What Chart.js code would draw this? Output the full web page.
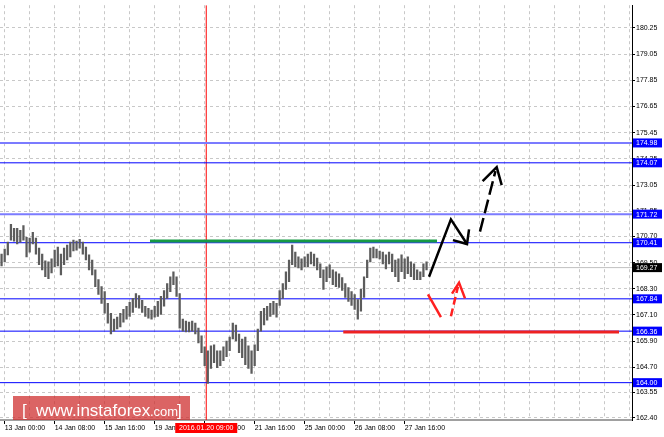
<!DOCTYPE html>
<html>
<head>
<meta charset="utf-8">
<script src="https://cdn.jsdelivr.net/npm/chart.js@4.4.1/dist/chart.umd.min.js"></script>
<style>
  html, body { margin: 0; padding: 0; background: #fff; }
</style>
</head>
<body>
<canvas id="gbpjpy" width="664" height="437"></canvas>
<script>
// H1 bars, bar 0 = 13 Jan 00:00; candles merged two bars at a time
const candleStart = -2;
const candleStep = 2;
const highs = [
  169.89, 170.12, 170.44, 171.25, 171.07, 171.07, 170.98, 171.20, 170.66, 170.62,
  170.89, 170.62, 170.16, 169.89, 169.58, 169.53, 169.67, 170.07, 170.21, 169.89,
  170.16, 170.30, 170.44, 170.53, 170.48, 170.57, 170.44, 170.21, 169.85, 169.62,
  169.17, 168.72, 168.40, 168.17, 167.63, 167.18, 166.91, 167.00, 167.18, 167.36,
  167.50, 167.68, 167.86, 168.08, 167.99, 167.77, 167.50, 167.41, 167.32, 167.50,
  167.72, 167.95, 168.22, 168.54, 168.85, 169.08, 168.85, 168.08, 166.91, 166.82,
  166.77, 166.82, 166.73, 166.50, 166.14, 165.64, 165.46, 165.69, 165.73, 165.46,
  165.46, 165.64, 165.91, 166.09, 166.73, 166.64, 166.23, 166.00, 166.09, 165.69,
  165.46, 165.73, 166.46, 167.27, 167.41, 167.50, 167.63, 167.72, 167.63, 168.22,
  168.54, 169.08, 169.62, 170.30, 169.98, 169.76, 169.67, 169.76, 169.89, 169.98,
  169.89, 169.71, 169.44, 169.17, 169.31, 169.40, 169.17, 169.08, 168.99, 168.81,
  168.54, 168.36, 168.17, 168.04, 167.81, 168.27, 168.85, 169.62, 170.16, 170.21,
  170.12, 170.03, 169.98, 169.85, 169.98, 169.89, 169.62, 169.67, 169.85, 169.67,
  169.76, 169.53, 169.44, 169.17, 169.08, 169.44, 169.53
];
const lows = [
  169.35, 169.53, 169.85, 170.53, 170.48, 170.35, 170.44, 170.53, 169.76, 169.98,
  170.35, 169.89, 169.40, 169.17, 168.85, 168.76, 169.03, 169.31, 169.35, 168.94,
  169.40, 169.62, 169.76, 170.03, 170.07, 170.16, 169.89, 169.62, 169.17, 168.94,
  168.40, 168.04, 167.63, 167.18, 166.73, 166.23, 166.36, 166.46, 166.55, 166.77,
  166.91, 167.04, 167.22, 167.45, 167.41, 167.22, 167.04, 166.95, 166.91, 167.00,
  167.04, 167.13, 167.50, 167.86, 168.17, 168.49, 167.95, 166.50, 166.36, 166.32,
  166.32, 166.36, 166.23, 165.82, 165.37, 164.78, 163.97, 164.65, 164.92, 164.69,
  164.78, 165.01, 165.19, 165.46, 166.00, 165.91, 165.37, 165.14, 164.83, 164.65,
  164.42, 164.78, 165.46, 166.36, 166.64, 166.86, 167.04, 167.13, 167.00, 167.54,
  167.86, 168.27, 168.63, 169.40, 169.31, 169.26, 169.17, 169.31, 169.31, 169.44,
  169.35, 169.17, 168.81, 168.27, 168.63, 168.81, 168.49, 168.40, 168.36, 168.22,
  167.90, 167.72, 167.54, 167.36, 166.91, 167.27, 167.90, 168.81, 169.53, 169.71,
  169.71, 169.67, 169.44, 169.21, 169.44, 169.08, 168.85, 168.63, 169.08, 168.76,
  168.99, 168.85, 168.72, 168.72, 168.72, 168.85, 169.17
];

// time axis: a label every 32 bars
const xTickLabels = ['13 Jan 00:00', '14 Jan 08:00', '15 Jan 16:00', '19 Jan 00:00', '20 Jan 08:00',
                     '21 Jan 16:00', '25 Jan 00:00', '26 Jan 08:00', '27 Jan 16:00'];
const yTickLabels = [180.25, 179.05, 177.85, 176.65, 175.45, 174.25, 173.05, 171.85,
                     170.70, 169.50, 168.30, 167.10, 165.90, 164.70, 163.55, 162.40];

// support / resistance levels and annotations (bar, price)
const levels = [174.98, 174.07, 171.72, 170.41, 167.84, 166.36, 164.00];
const lastPrice = 169.27;
const markerBar = 129;            // 2016.01.20 09:00
const markerText = '2016.01.20 09:00';
const greenLine = [[93, 170.49], [276.7, 170.49]];
const redLine = [[216.7, 166.32], [393.2, 166.32]];
const blackUp = [[271.6, 168.85], [285.6, 171.48], [295.9, 170.35]];
const blackUpHead = [[286.9, 170.53], [295.9, 170.35], [297.2, 171.02]];
const blackDash = [[304.2, 170.92], [314.1, 173.69]];
const blackDashHead = [[305.9, 173.23], [314.9, 173.87], [318.1, 173.05]];
const redDown = [[270.9, 168.04], [279.2, 167.00]];
const redDash = [[285.6, 167.04], [290.1, 168.40]];
const redDashHead = [[286.3, 168.08], [290.8, 168.58], [294.6, 167.86]];

const xMin = -3, xMax = 401.5;
const yMin = 162.29, yMax = 181.29;

const candles = highs.map((h, i) => ({ x: candleStart + i * candleStep, y: [lows[i], h] }));

function seg(points, color, width, dash, order) {
    return {
        type: 'line',
        data: points.map(p => ({ x: p[0], y: p[1] })),
        borderColor: color,
        borderWidth: width,
        borderDash: dash || [],
        pointRadius: 0,
        fill: false,
        tension: 0,
        order: order === undefined ? 0 : order
    };
}

const levelSets = levels.map(v => {
    const light = (v === 174.98 || v === 171.72);
    return seg([[xMin, v], [xMax, v]], light ? '#7b7bff' : '#0000ff', light ? 2 : 1, null, 3);
});

const overlay = {
    id: 'overlay',
    afterDraw(chart) {
        const ctx = chart.ctx;
        const ys = chart.scales.y, xs = chart.scales.x;
        ctx.save();
        ctx.font = '7px "Liberation Sans"';
        ctx.textBaseline = 'middle';
        ctx.textAlign = 'left';
        const box = (v, color) => {
            const py = ys.getPixelForValue(v);
            ctx.fillStyle = color;
            ctx.fillRect(ys.left + 1, py - 4.5, 29, 9);
            ctx.fillStyle = '#fff';
            ctx.fillText(v.toFixed(2), ys.left + 4, py + 0.5);
        };
        levels.forEach(v => box(v, '#0000ff'));
        box(lastPrice, '#000');

        // time marker label on the x axis
        const px = xs.getPixelForValue(markerBar);
        ctx.fillStyle = '#ff0000';
        ctx.fillRect(px - 31, 423, 62, 10);
        ctx.fillStyle = '#fff';
        ctx.textAlign = 'center';
        ctx.fillText(markerText, px, 428.5);

        // watermark
        ctx.fillStyle = 'rgba(205, 40, 40, 0.72)';
        ctx.fillRect(13, 396, 177, 24);
        ctx.fillStyle = '#fff';
        ctx.textAlign = 'left';
        ctx.textBaseline = 'alphabetic';
        ctx.font = '17px "Liberation Sans"';
        ctx.fillText('[', 22, 416);
        ctx.fillText('www.instaforex', 36, 416);
        ctx.fillText(']', 177, 416);
        ctx.font = '13px "Liberation Sans"';
        ctx.fillText('.com', 150, 416);
        ctx.restore();
    }
};

new Chart(document.getElementById('gbpjpy'), {
    type: 'bar',
    data: {
        datasets: [
            {
                type: 'bar',
                data: candles,
                backgroundColor: '#5c5c5c',
                barThickness: 1.6,
                grouped: false,
                order: 1
            },
            seg([[xMin, lastPrice], [xMax, lastPrice]], '#c0c0c0', 1, null, 4),
            seg([[markerBar, yMin], [markerBar, yMax]], '#ff0000', 1, null, 4),
            ...levelSets,
            seg(greenLine, '#179a45', 3, null, 2),
            seg(redLine, '#ee2222', 3, null, 2),
            seg(blackUp, '#000', 2.5),
            seg(blackUpHead, '#000', 2.5),
            seg(blackDash, '#000', 2.5, [14, 5]),
            seg(blackDashHead, '#000', 2.5),
            seg(redDown, '#ff2020', 2.5),
            seg(redDash, '#ff2020', 2.5, [8, 4]),
            seg(redDashHead, '#ff2020', 2.5)
        ]
    },
    options: {
        responsive: false,
        animation: false,
        layout: { padding: 0, autoPadding: false },
        plugins: { legend: { display: false }, tooltip: { enabled: false } },
        scales: {
            x: {
                type: 'linear',
                position: 'bottom',
                min: xMin,
                max: xMax,
                offset: false,
                grid: {
                    offset: false,
                    color: '#c8c8c8',
                    tickLength: 4,
                    tickColor: c => (c.tick && c.tick.value % 32 === 0 && c.tick.value / 32 < xTickLabels.length) ? '#000' : 'rgba(0,0,0,0)'
                },
                border: { color: '#a0a0a0', width: 2, dash: [3, 3] },
                ticks: {
                    autoSkip: false,
                    maxRotation: 0,
                    align: 'start',
                    padding: 0,
                    color: '#000',
                    font: { family: 'Liberation Sans', size: 7 },
                    callback: v => (v % 32 === 0 && v / 32 < xTickLabels.length) ? xTickLabels[v / 32] : ''
                },
                afterBuildTicks: s => {
                    const t = [];
                    for (let b = 0; b <= 400; b += 16) t.push({ value: b });
                    s.ticks = t;
                },
                afterFit: s => { s.height = 17; }
            },
            y: {
                type: 'linear',
                position: 'right',
                min: yMin,
                max: yMax,
                beginAtZero: false,
                grid: { color: '#c8c8c8', tickLength: 3, tickColor: '#000' },
                border: { color: '#000', width: 1, dash: [3, 3] },
                ticks: {
                    padding: 1,
                    color: '#000',
                    font: { family: 'Liberation Sans', size: 7 },
                    callback: v => v.toFixed(2)
                },
                afterBuildTicks: s => { s.ticks = yTickLabels.map(v => ({ value: v })); },
                afterFit: s => { s.width = 32; }
            }
        }
    },
    plugins: [overlay]
});
</script>
</body>
</html>
